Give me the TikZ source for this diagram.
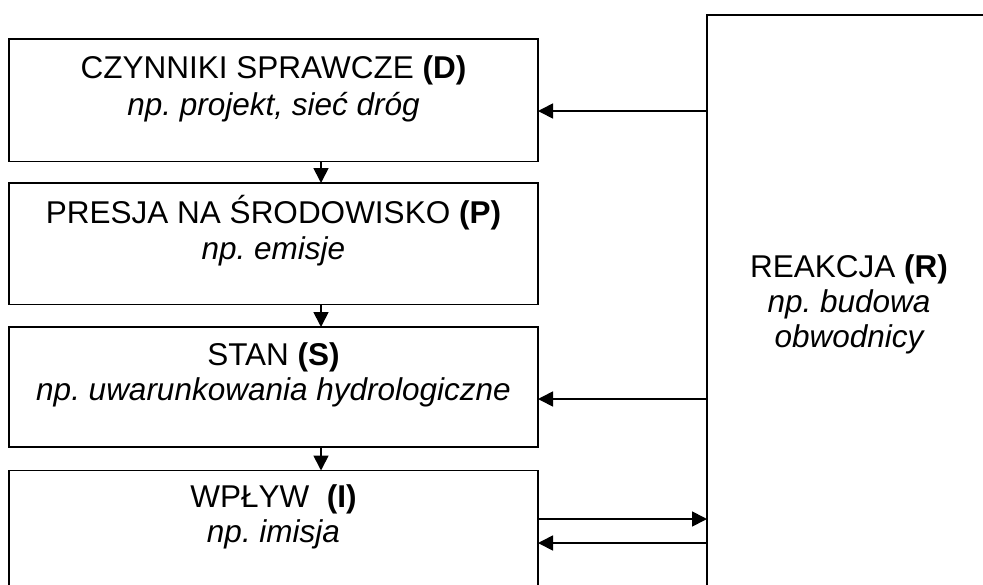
\documentclass[tikz,border=0pt]{standalone}
\usepackage{fontspec}
\setmainfont{Liberation Sans}
\usetikzlibrary{arrows.meta}
\frenchspacing
\begin{document}
\begin{tikzpicture}[x=1pt,y=-1pt,
  box/.style={draw=black, line width=1.7pt, rectangle, inner sep=0pt, outer sep=0pt},
  arr/.style={line width=1.7pt, -{Triangle[length=15pt,width=15pt]}},
  lbl/.style={anchor=base, inner sep=0pt, font=\fontsize{31.5}{36}\selectfont}]
\useasboundingbox (0,0) rectangle (983,584);
\clip (0,0) rectangle (983,584);
\fill[white] (0,0) rectangle (983,584);

% DPSIR chain on the left
\node[box, minimum width=529pt, minimum height=122.5pt] (b1) at (273.5,100.25) {};
\node[box, minimum width=529pt, minimum height=121.5pt] (b2) at (273.5,243.75) {};
\node[box, minimum width=529pt, minimum height=120pt]   (b3) at (273.5,387) {};
\node[box, minimum width=529pt, minimum height=122pt]   (b4) at (273.5,531.5) {};

% response box on the right
\node[box, minimum width=284pt, minimum height=585pt] (r) at (849,307.5) {};

% labels
\node[lbl] (d1) at (273.5,78)  {CZYNNIKI SPRAWCZE \textbf{(D)}};
\node[lbl] (d2) at (273.5,115) {\itshape np. projekt, sieć dróg};
\node[lbl] (p1) at (273.5,223) {PRESJA NA ŚRODOWISKO \textbf{(P)}};
\node[lbl] (p2) at (273.5,259) {\itshape np. emisje};
\node[lbl] (s1) at (273.5,365) {STAN \textbf{(S)}};
\node[lbl] (s2) at (273.5,400) {\itshape np. uwarunkowania hydrologiczne};
\node[lbl] (i1) at (273.5,507) {WPŁYW\ \ \textbf{(I)}};
\node[lbl] (i2) at (273.5,542) {\itshape np. imisja};
\node[lbl] (r1) at (849,277) {REAKCJA \textbf{(R)}};
\node[lbl] (r2) at (849,312) {\itshape np. budowa};
\node[lbl] (r3) at (849,347) {\itshape obwodnicy};

% vertical flow
\coordinate (ax) at (321,0);
\draw[arr] (b1.south -| ax) -- (b2.north -| ax);
\draw[arr] (b2.south -| ax) -- (b3.north -| ax);
\draw[arr] (b3.south -| ax) -- (b4.north -| ax);

% feedback links
\coordinate (h1) at (707,111);
\coordinate (h2) at (707,399);
\coordinate (h3) at (538,519);
\coordinate (h4) at (707,543);
\draw[arr] (h1 -| r.west) -- (h1 -| b1.east);
\draw[arr] (h2 -| r.west) -- (h2 -| b3.east);
\draw[arr] (h3 -| b4.east) -- (h3 -| r.west);
\draw[arr] (h4 -| r.west) -- (h4 -| b4.east);
\end{tikzpicture}
\end{document}
